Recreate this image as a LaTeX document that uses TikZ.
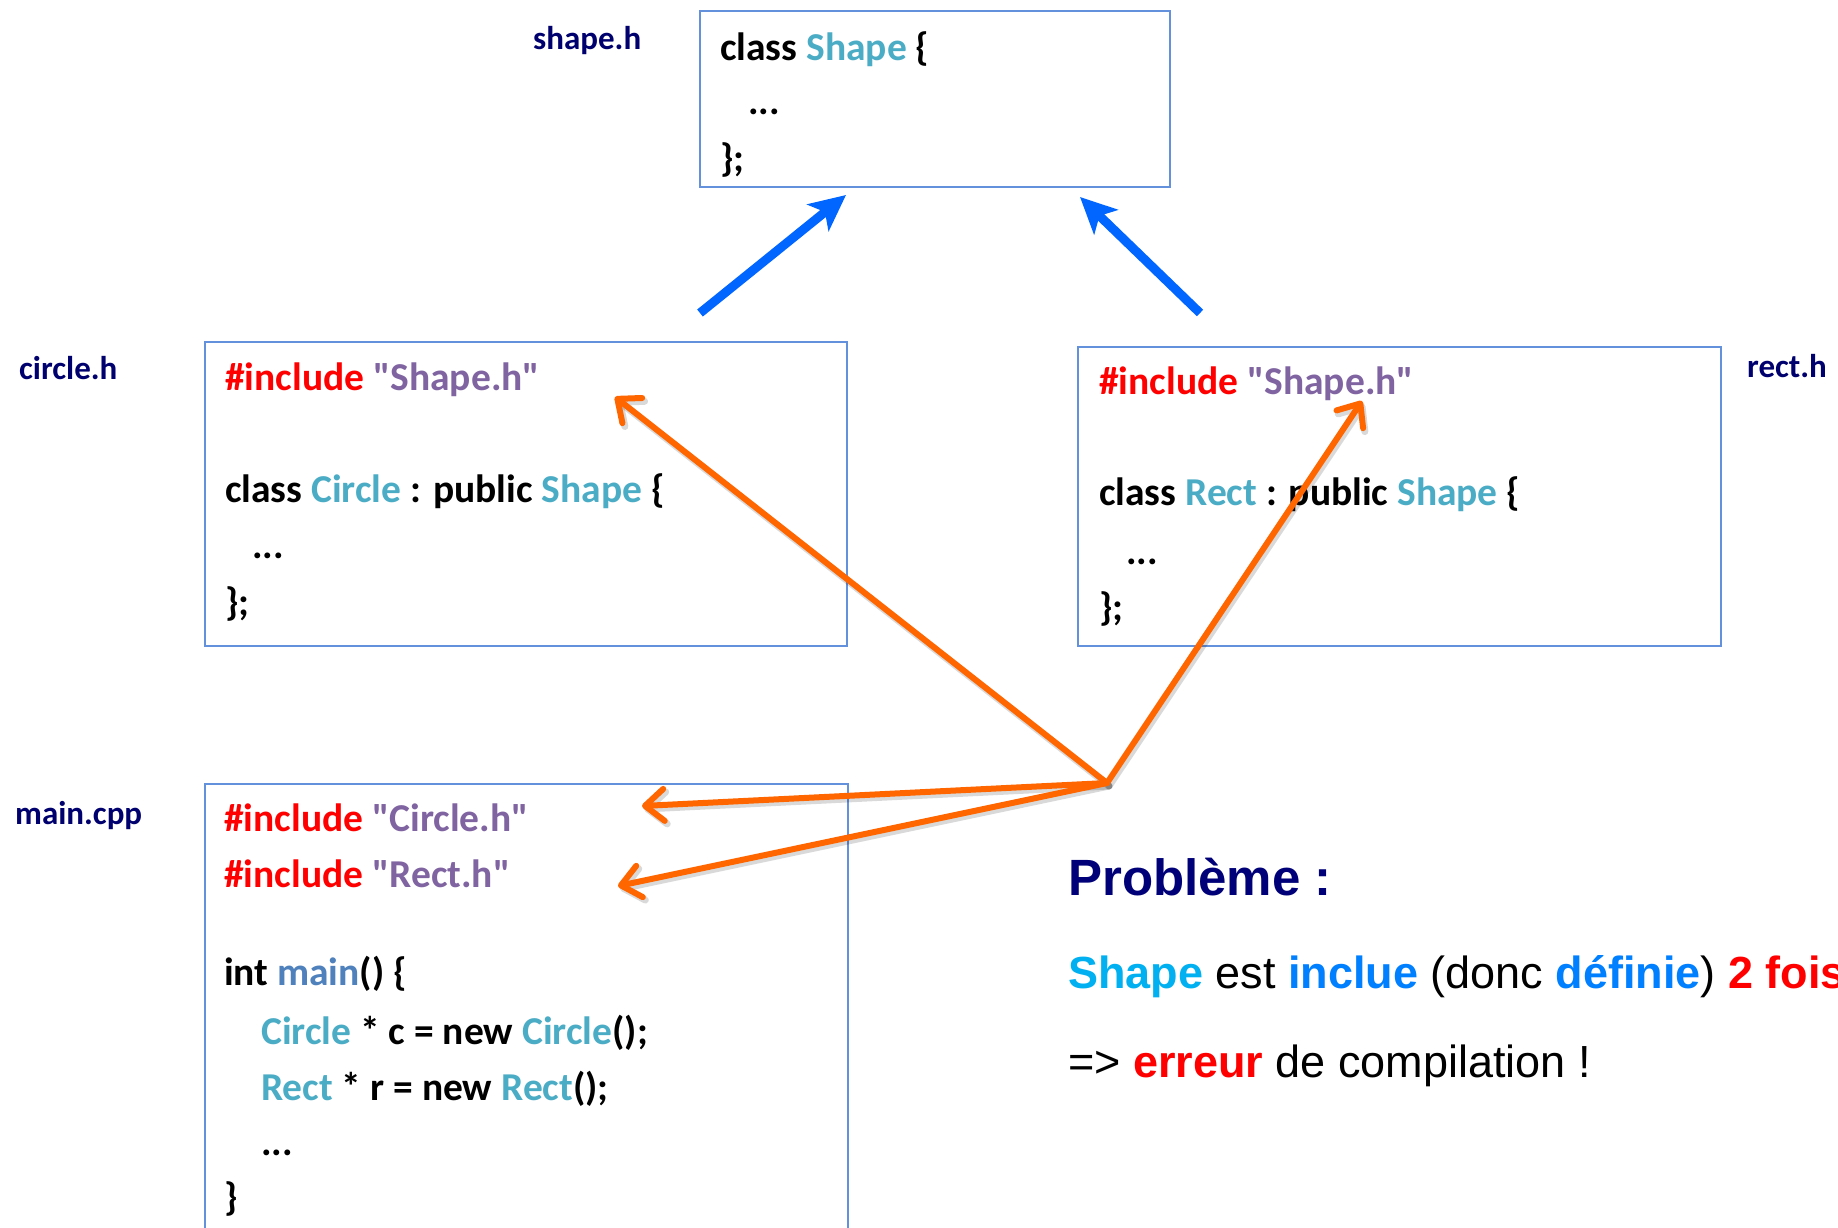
\documentclass[tikz,border=0pt]{standalone}
\usepackage{fontspec}
\setmainfont{Carlito}
\newfontfamily\codefont{Carlito}
\newfontfamily\helv{Liberation Sans}
\usetikzlibrary{arrows.meta}
\definecolor{kwred}{RGB}{255,0,0}
\definecolor{strpurple}{RGB}{128,100,162}
\definecolor{typeteal}{RGB}{75,172,198}
\definecolor{fnblue}{RGB}{79,129,189}
\definecolor{labelnavy}{RGB}{0,0,110}
\definecolor{boxblue}{RGB}{100,145,220}
\definecolor{arrowblue}{RGB}{0,102,255}
\definecolor{arroworange}{RGB}{255,102,0}
\definecolor{titlenavy}{RGB}{0,0,120}
\definecolor{shapecyan}{RGB}{0,176,240}
\definecolor{wordblue}{RGB}{0,128,255}
\begin{document}
\begin{tikzpicture}[x=1pt,y=-1pt,
  codebox/.style={draw=boxblue, line width=2pt, anchor=north west, inner sep=0pt},
  code/.style={anchor=base west, inner sep=0pt, font=\codefont\fontsize{39.5}{47}\selectfont\bfseries},
  filelabel/.style={anchor=base west, inner sep=0pt, text=labelnavy, font=\codefont\fontsize{33}{40}\selectfont\bfseries},
  inherit/.style={draw=arrowblue, line width=9pt, -{Stealth[length=36pt,width=34pt,inset=9pt]}},
  incl/.style={draw=arroworange, line width=6pt, line cap=round, -{Straight Barb[length=19pt,width=32pt,line cap=round,line join=round]}},
  inclshadow/.style={draw=black, opacity=0.15, line width=7pt, line cap=round, transform canvas={shift={(2pt,-3pt)}}, -{Straight Barb[length=19pt,width=32pt,line cap=round,line join=round]}},
  probtext/.style={anchor=base west, inner sep=0pt, font=\helv\fontsize{45}{54}\selectfont}
]
\useasboundingbox (0,0) rectangle (1838,1227);
\fill[white] (0,0) rectangle (1838,1227);

% boxes
\node[codebox, minimum width=470pt, minimum height=176pt] (shapebox) at (699,10) {};
\node[codebox, minimum width=642pt, minimum height=304pt] (circlebox) at (204,341) {};
\node[codebox, minimum width=643pt, minimum height=299pt] (rectbox) at (1077,346) {};
\node[codebox, minimum width=643pt, minimum height=470pt] (mainbox) at (204,783) {};

% file labels
\node[filelabel] (lblshape) at (533,49) {shape.h};
\node[filelabel] (lblcircle) at (19,379) {circle.h};
\node[filelabel] (lblrect) at (1747,377) {rect.h};
\node[filelabel] (lblmain) at (15,824) {main.cpp};

% shape.h
\node[code] (s1) at (720,60) {class \textcolor{typeteal}{Shape} \{};
\node[code] (s2) at (748,114) {...};
\node[code] (s3) at (720,171) {\};};

% circle.h
\node[code] (c1) at (225,390) {\textcolor{kwred}{\#include} \textcolor{strpurple}{"Shape.h"}};
\node[code] (c2) at (225,502) {class \textcolor{typeteal}{Circle} : public \textcolor{typeteal}{Shape} \{};
\node[code] (c3) at (252,558) {...};
\node[code] (c4) at (225,615) {\};};

% rect.h
\node[code] (r1) at (1099,394) {\textcolor{kwred}{\#include} \textcolor{strpurple}{"Shape.h"}};
\node[code] (r2) at (1099,505) {class \textcolor{typeteal}{Rect} : public \textcolor{typeteal}{Shape} \{};
\node[code] (r3) at (1126,564) {...};
\node[code] (r4) at (1099,620) {\};};

% main.cpp
\node[code] (m1) at (224,831) {\textcolor{kwred}{\#include} \textcolor{strpurple}{"Circle.h"}};
\node[code] (m2) at (224,887) {\textcolor{kwred}{\#include} \textcolor{strpurple}{"Rect.h"}};
\node[code] (m3) at (224,985) {int \textcolor{fnblue}{main}() \{};
\node[code] (m4) at (261,1044) {\textcolor{typeteal}{Circle} * c = new \textcolor{typeteal}{Circle}();};
\node[code] (m5) at (261,1100) {\textcolor{typeteal}{Rect} * r = new \textcolor{typeteal}{Rect}();};
\node[code] (m6) at (261,1155) {...};
\node[code] (m7) at (224,1210) {\}};

% problem text
\node[anchor=base west, inner sep=0pt, text=titlenavy, font=\helv\fontsize{51}{60}\selectfont\bfseries] (prob) at (1068,895) {Problème :};
\node[probtext] (prob2) at (1068,988) {\textbf{\textcolor{shapecyan}{Shape}} est \textbf{\textcolor{wordblue}{inclue}} (donc \textbf{\textcolor{wordblue}{définie}}) \textbf{\textcolor{kwred}{2 fois}}};
\node[probtext] (prob3) at (1068,1077) {=> \textbf{\textcolor{kwred}{erreur}} de compilation !};

% inheritance arrows
\coordinate (circtail) at (700,313);
\coordinate (shapeinL) at (846,195);
\coordinate (recttail) at (1200,313);
\coordinate (shapeinR) at (1080,197);
\draw[inherit] (circtail) -- (shapeinL);
\draw[inherit] (recttail) -- (shapeinR);

% include arrows
\coordinate (hub) at (1107,783);
\coordinate (tcirc) at (615,397);
\coordinate (trect) at (1362,401);
\coordinate (tmc) at (642,806);
\coordinate (tmr) at (618,886);
\foreach \t in {tcirc,trect,tmc,tmr}{\draw[inclshadow] (hub) -- (\t);}
\foreach \t in {tcirc,trect,tmc,tmr}{\draw[incl] (hub) -- (\t);}
\end{tikzpicture}
\end{document}
